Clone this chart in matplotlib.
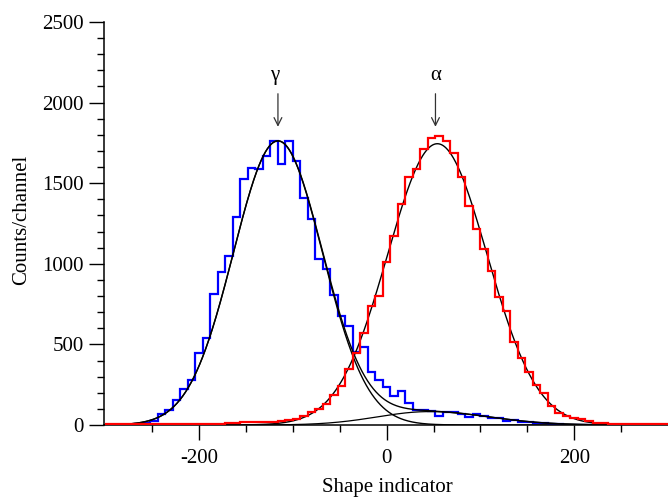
import numpy as np
import matplotlib
matplotlib.use("Agg")
import matplotlib.pyplot as plt
from matplotlib.ticker import MultipleLocator, FixedLocator

plt.rcParams['font.family'] = ['Liberation Serif', 'DejaVu Serif']

# ---------------- data ----------------
bin_edges = np.arange(-300, 301, 8)  # 75 bins of width 8

gamma_counts = [0, 0, 2, 3, 5, 14, 25, 70, 93, 155,
                225, 282, 445, 542, 813, 951, 1049, 1292, 1524, 1597,
                1587, 1671, 1760, 1617, 1760, 1638, 1410, 1281, 1030, 966,
                806, 674, 617, 455, 486, 326, 279, 236, 178, 210,
                134, 91, 93, 89, 56, 78, 78, 68, 52, 68,
                56, 45, 41, 27, 31, 21, 19, 14, 14, 8,
                5, 3, 2, 1, 0, 0, 0, 0, 0, 0,
                0, 0, 0, 0, 0]

alpha_counts = [5, 4, 5, 6, 5, 4, 6, 5, 6, 5,
                6, 7, 6, 7, 7, 8, 14, 14, 19, 19,
                19, 17, 20, 22, 28, 36, 54, 78, 100, 133,
                183, 240, 345, 449, 569, 739, 801, 1013, 1175, 1373,
                1540, 1586, 1710, 1780, 1795, 1764, 1689, 1536, 1358, 1216,
                1092, 955, 796, 709, 517, 414, 331, 248, 201, 118,
                77, 56, 46, 35, 27, 15, 10, 8, 7, 6,
                6, 5, 5, 5, 5]

# Gaussian fit parameters: amplitude, centre, width
gamma_fit = dict(amp=1762, mu=-116, sigma=47.5)
alpha_fit = dict(amp=1745, mu=54, sigma=53)
# broad asymmetric component under the gamma peak
tail_fit = dict(amp=83, mu=45, sigma_left=55, sigma_right=64)

peak_labels = ["γ", "α"]
peak_positions = [-116, 52]

x_ticks_major = [-200, 0, 200]
x_ticks_minor = [-250, -150, -100, -50, 50, 100, 150, 250]
y_ticks_major = [0, 500, 1000, 1500, 2000, 2500]

# ---------------- curves ----------------
xs = np.linspace(-302, 300, 1200)
g_curve = gamma_fit['amp'] * np.exp(-(xs - gamma_fit['mu'])**2 / (2 * gamma_fit['sigma']**2))
a_curve = alpha_fit['amp'] * np.exp(-(xs - alpha_fit['mu'])**2 / (2 * alpha_fit['sigma']**2))
sig = np.where(xs < tail_fit['mu'], tail_fit['sigma_left'], tail_fit['sigma_right'])
t_curve = tail_fit['amp'] * np.exp(-(xs - tail_fit['mu'])**2 / (2 * sig**2))

# ---------------- figure ----------------
fig = plt.figure(figsize=(6.68, 4.97), dpi=100)
ax = fig.add_axes([0.155, 0.1449, 0.845, 0.8108])

ax.stairs(gamma_counts, bin_edges, color='#0000ff', lw=1.6, baseline=None, zorder=2.6)
ax.stairs(alpha_counts, bin_edges, color='#ff0000', lw=1.6, baseline=None, zorder=3.5)

ax.plot(xs, g_curve, color='black', lw=1.0, zorder=3)
ax.plot(xs, g_curve + t_curve, color='black', lw=1.0, zorder=3)
ax.plot(xs, t_curve, color='black', lw=0.9, zorder=3)
ax.plot(xs, a_curve, color='black', lw=1.0, zorder=3)

for lab, xp in zip(peak_labels, peak_positions):
    ax.annotate('', xy=(xp, 1850), xytext=(xp, 2055),
                arrowprops=dict(arrowstyle='->', color='#333333', lw=0.9,
                                shrinkA=0, shrinkB=0, mutation_scale=14))
    ax.text(xp - (4 if lab == "γ" else 0), 2170, lab, ha='center', va='center', fontsize=15)

ax.set_xlim(-302, 300)
ax.set_ylim(0, 2500)

ax.spines['top'].set_visible(False)
ax.spines['right'].set_visible(False)
ax.spines['left'].set_linewidth(1.1)
ax.spines['bottom'].set_linewidth(1.1)

ax.xaxis.set_major_locator(FixedLocator(x_ticks_major))
ax.xaxis.set_minor_locator(FixedLocator(x_ticks_minor))
ax.yaxis.set_major_locator(FixedLocator(y_ticks_major))
ax.yaxis.set_minor_locator(MultipleLocator(100))

ax.tick_params(which='major', direction='out', length=11, width=1.0, labelsize=15)
ax.tick_params(axis='x', which='major', pad=6)
ax.tick_params(axis='y', which='major', pad=3)
ax.tick_params(which='minor', direction='out', length=5, width=1.0)

ax.set_xticklabels(['-200', '0', '200'])

ax.set_xlabel('Shape indicator', fontsize=15)
ax.set_ylabel('Counts/channel', fontsize=15)
ax.xaxis.set_label_coords(0.503, -0.155)
ax.xaxis.label.set_va('center')
ax.yaxis.set_label_coords(-0.145, 0.51)
ax.yaxis.label.set_va('center')

fig.savefig('out.png', dpi=100)
